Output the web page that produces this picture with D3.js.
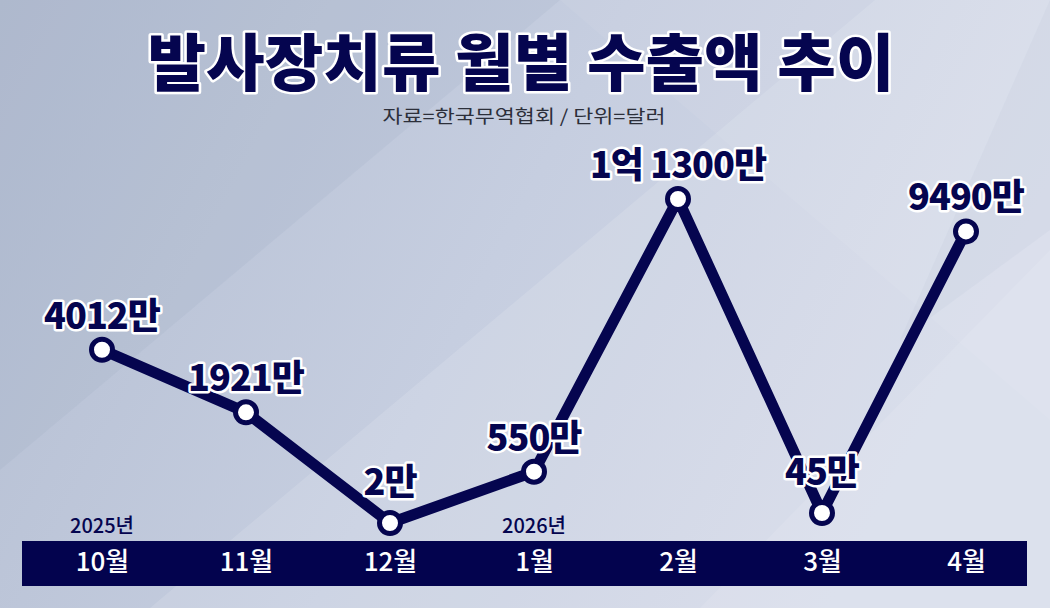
<!DOCTYPE html>
<html>
<head>
<meta charset="utf-8">
<script src="https://cdn.jsdelivr.net/npm/d3@7"></script>
<style>
  html, body { margin: 0; padding: 0; background: #c6cee0; }
  svg { display: block; }
</style>
</head>
<body>
<div id="chart"></div>
<script>
// data (values in 만 달러)
var months = ["10월", "11월", "12월", "1월", "2월", "3월", "4월"];
var values = [4012, 1921, 2, 550, 11300, 45, 9490];
var valueLabels = ["4012만", "1921만", "2만", "550만", "1억 1300만", "45만", "9490만"];
var yearLabels = [{ month: "10월", text: "2025년" }, { month: "1월", text: "2026년" }];

var width = 1050, height = 608;
var navy = "#05054f";

var svg = d3.select("#chart").append("svg")
    .attr("width", width)
    .attr("height", height);

// background
var defs = svg.append("defs");
var grad = defs.append("linearGradient").attr("id", "bg")
    .attr("x1", "0%").attr("y1", "0%").attr("x2", "100%").attr("y2", "30%");
grad.append("stop").attr("offset", "0%").attr("stop-color", "#b3bdd1");
grad.append("stop").attr("offset", "55%").attr("stop-color", "#c6cee0");
grad.append("stop").attr("offset", "100%").attr("stop-color", "#d4d9e8");

svg.append("rect").attr("width", width).attr("height", height).attr("fill", "url(#bg)");

var shapes = [
    { pts: [[150, 608], [875, 0], [1050, 0], [1050, 608]], fill: "#ffffff", op: 0.13 },
    { pts: [[0, 0], [560, 0], [0, 470]], fill: "#8e9ab4", op: 0.12 },
    { pts: [[560, 0], [1050, 420], [1050, 0]], fill: "#ffffff", op: 0.06 },
    { pts: [[700, 608], [1050, 250], [1050, 608]], fill: "#ffffff", op: 0.1 },
    { pts: [[1160, 0], [1050, 0], [900, 340], [1050, 230]], fill: "#9ca6bd", op: 0.08 }
];
svg.append("g").selectAll("polygon")
    .data(shapes)
    .enter().append("polygon")
    .attr("points", d => d.pts.map(p => p.join(",")).join(" "))
    .attr("fill", d => d.fill)
    .attr("fill-opacity", d => d.op);

// title
svg.append("text")
    .attr("x", 521).attr("y", 86)
    .attr("text-anchor", "middle")
    .attr("textLength", 747)
    .attr("lengthAdjust", "spacingAndGlyphs")
    .style("font-family", "'Noto Sans CJK KR', 'Noto Sans', sans-serif")
    .style("font-weight", 900)
    .style("font-size", "62px")
    .attr("fill", navy)
    .attr("stroke", "#ffffff")
    .attr("stroke-width", 5)
    .attr("stroke-linejoin", "round")
    .attr("paint-order", "stroke")
    .text("발사장치류 월별 수출액 추이");

svg.append("text")
    .attr("x", 524).attr("y", 123)
    .attr("text-anchor", "middle")
    .attr("textLength", 283)
    .attr("lengthAdjust", "spacingAndGlyphs")
    .style("font-family", "'Noto Sans CJK KR', sans-serif")
    .style("font-weight", 400)
    .style("font-size", "18px")
    .attr("fill", "#2c2f3a")
    .text("자료=한국무역협회 / 단위=달러");

// scales
var x = d3.scalePoint()
    .domain(months)
    .range([102, 966]);

var y = d3.scalePow()
    .exponent(0.6)
    .domain([2, 11300])
    .range([523, 199]);

var data = months.map((m, i) => ({ month: m, value: values[i], label: valueLabels[i] }));

// bottom month bar
svg.append("rect")
    .attr("x", 22).attr("y", 541)
    .attr("width", 1005).attr("height", 45)
    .attr("fill", "#03034e");

var xAxis = d3.axisBottom(x).tickSize(0).tickPadding(0);
var axisG = svg.append("g")
    .attr("transform", "translate(0,553)")
    .call(xAxis);
axisG.select(".domain").remove();
axisG.selectAll(".tick text")
    .attr("fill", "#ffffff")
    .attr("dy", "0.71em")
    .style("font-family", "'Noto Sans CJK KR', sans-serif")
    .style("font-weight", 500)
    .style("font-size", "26px");

// year labels
svg.append("g").selectAll("text")
    .data(yearLabels)
    .enter().append("text")
    .attr("x", d => x(d.month))
    .attr("y", 533)
    .attr("text-anchor", "middle")
    .style("font-family", "'Noto Sans CJK KR', sans-serif")
    .style("font-weight", 500)
    .style("font-size", "20px")
    .attr("fill", navy)
    .text(d => d.text);

// line
var line = d3.line()
    .x(d => x(d.month))
    .y(d => y(d.value));

svg.append("path")
    .datum(data)
    .attr("d", line)
    .attr("fill", "none")
    .attr("stroke", navy)
    .attr("stroke-width", 11)
    .attr("stroke-linejoin", "round");

// value labels
svg.append("g").selectAll("text")
    .data(data)
    .enter().append("text")
    .attr("x", d => x(d.month))
    .attr("y", d => y(d.value) - (d.value < 100 ? 28 : 21))
    .attr("text-anchor", "middle")
    .style("font-family", "'Noto Sans CJK KR', sans-serif")
    .style("font-weight", 900)
    .style("font-size", "36px")
    .style("letter-spacing", "-1px")
    .attr("fill", navy)
    .attr("stroke", "#ffffff")
    .attr("stroke-width", 5)
    .attr("stroke-linejoin", "round")
    .attr("paint-order", "stroke")
    .text(d => d.label);

// points
svg.append("g").selectAll("circle")
    .data(data)
    .enter().append("circle")
    .attr("cx", d => x(d.month))
    .attr("cy", d => y(d.value))
    .attr("r", 10.5)
    .attr("fill", "#ffffff")
    .attr("stroke", navy)
    .attr("stroke-width", 5);
</script>
</body>
</html>
